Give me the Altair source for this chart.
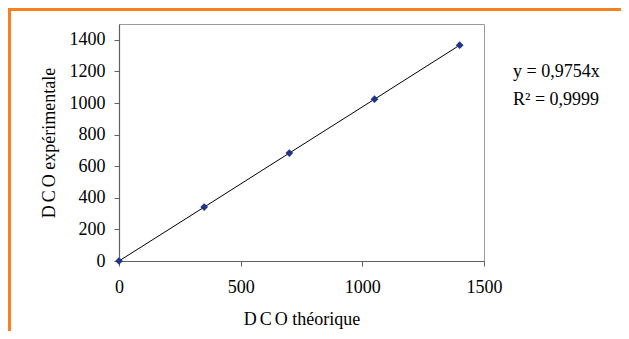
import altair as alt
import pandas as pd

# Data
dco_theorique = [0, 350, 700, 1050, 1400]
dco_experimentale = [0, 341, 683, 1024, 1366]
x_ticks = [0, 500, 1000, 1500]
y_ticks = [0, 200, 400, 600, 800, 1000, 1200, 1400]
equation_lines = ["y = 0,9754x", "R² = 0,9999"]

df = pd.DataFrame({"x": dco_theorique, "y": dco_experimentale})
FONT = "Liberation Serif"
NAVY = "#22338c"
ORANGE = "#f7801f"
SP = "\u2006"

x_enc = alt.X("x:Q", scale=alt.Scale(domain=[0, 1500], nice=False),
              axis=alt.Axis(values=x_ticks, format="d", labelFlush=False, labelOverlap=False,
                            title=f"D{SP}C{SP}O théorique",
                            titlePadding=14, labelPadding=12))
y_enc = alt.Y("y:Q", scale=alt.Scale(domain=[0, 1500], nice=False),
              axis=alt.Axis(values=y_ticks, format="d", labelFlush=False, labelOverlap=False,
                            title=f"D{SP}C{SP}O expérimentale",
                            titlePadding=11, labelPadding=9))

base = alt.Chart(df)
line = base.mark_line(color="black", strokeWidth=1).encode(x=x_enc, y=y_enc)
pts = base.mark_point(shape="diamond", filled=True, color=NAVY, size=60, opacity=1).encode(x=x_enc, y=y_enc)

ann1 = alt.Chart(pd.DataFrame({"t": [equation_lines[0]]})).mark_text(
    font=FONT, fontSize=18, align="left", baseline="alphabetic", color="black"
).encode(text="t:N", x=alt.value(394), y=alt.value(53))
ann2 = alt.Chart(pd.DataFrame({"t": [equation_lines[1]]})).mark_text(
    font=FONT, fontSize=18, align="left", baseline="alphabetic", color="black"
).encode(text="t:N", x=alt.value(394), y=alt.value(81))

border_top = alt.Chart(pd.DataFrame({"a": [0]})).mark_rule(color=ORANGE, strokeWidth=3).encode(
    x=alt.value(-111), x2=alt.value(520), y=alt.value(-14.5))
border_left = alt.Chart(pd.DataFrame({"a": [0]})).mark_rule(color=ORANGE, strokeWidth=3).encode(
    x=alt.value(-109.5), y=alt.value(-16), y2=alt.value(320))

chart = alt.layer(line, pts, ann1, ann2, border_top, border_left).properties(
    width=365, height=237,
    autosize=alt.AutoSizeParams(type="none"),
    padding={"left": 111, "top": 16, "right": 137, "bottom": 70},
    background="white",
).configure_view(
    stroke="#9a9a9a", strokeWidth=1
).configure_axis(
    grid=False, labelOverlap=False,
    labelFont=FONT, labelFontSize=18, labelColor="black",
    titleFont=FONT, titleFontSize=18, titleFontWeight="normal", titleColor="black",
    domainColor="#606060", tickColor="#606060", tickSize=5, domainWidth=1.2,
)

chart.save("out.html", embed_options={"renderer": "svg", "actions": False})
